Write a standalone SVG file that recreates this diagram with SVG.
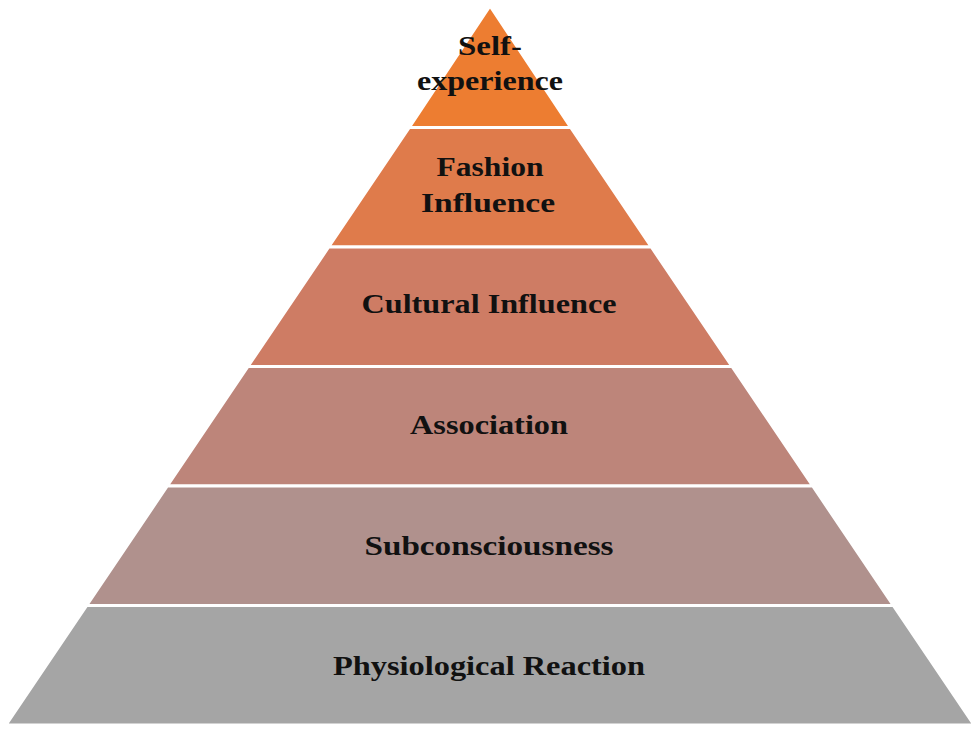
<svg xmlns="http://www.w3.org/2000/svg" width="980" height="734" viewBox="0 0 980 734">
<style>
.layer{stroke:#ffffff;stroke-width:3;stroke-linejoin:miter}
.lbl{font-family:"Liberation Serif","Times New Roman",serif;font-weight:bold;font-size:27px;fill:#111111;text-anchor:middle}
</style>
<rect width="980" height="734" fill="#ffffff"/>
<g id="self-experience">
<polygon class="layer" points="490,6 409.3,127.5 570.7,127.5" fill="#ED7D31"/>
<text class="lbl" x="490" y="55" textLength="64" lengthAdjust="spacingAndGlyphs">Self-</text>
<text class="lbl" x="490" y="90" textLength="146" lengthAdjust="spacingAndGlyphs">experience</text>
</g>
<g id="fashion-influence">
<polygon class="layer" points="409.3,127.5 570.7,127.5 651.3,247 328.7,247" fill="#DF7B4B"/>
<text class="lbl" x="490" y="176" textLength="107" lengthAdjust="spacingAndGlyphs">Fashion</text>
<text class="lbl" x="488" y="212" textLength="134" lengthAdjust="spacingAndGlyphs">Influence</text>
</g>
<g id="cultural-influence">
<polygon class="layer" points="328.7,247 651.3,247 732,366.5 248,366.5" fill="#CE7C64"/>
<text class="lbl" x="489" y="313" textLength="255" lengthAdjust="spacingAndGlyphs">Cultural Influence</text>
</g>
<g id="association">
<polygon class="layer" points="248,366.5 732,366.5 812.7,486 167.3,486" fill="#BD857A"/>
<text class="lbl" x="489" y="434" textLength="158" lengthAdjust="spacingAndGlyphs">Association</text>
</g>
<g id="subconsciousness">
<polygon class="layer" points="167.3,486 812.7,486 893.3,605.5 86.7,605.5" fill="#B0918D"/>
<text class="lbl" x="489" y="555" textLength="249" lengthAdjust="spacingAndGlyphs">Subconsciousness</text>
</g>
<g id="physiological-reaction">
<polygon class="layer" points="86.7,605.5 893.3,605.5 974,725 6,725" fill="#A5A5A5"/>
<text class="lbl" x="489" y="675" textLength="312" lengthAdjust="spacingAndGlyphs">Physiological Reaction</text>
</g>
<g id="connectors"></g>
</svg>
